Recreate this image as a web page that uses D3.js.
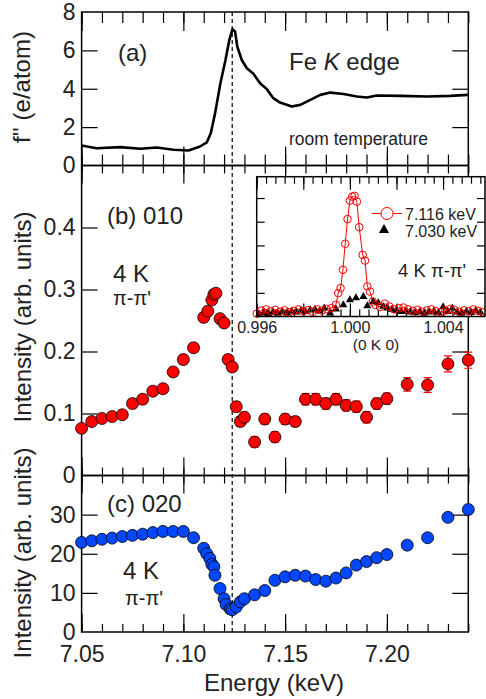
<!DOCTYPE html>
<html>
<head>
<meta charset="utf-8">
<script src="https://cdn.jsdelivr.net/npm/d3@7"></script>
<style>
  body { margin: 0; background: #fff; }
  text { font-family: "Liberation Sans", Arial, sans-serif; fill: #222; }
</style>
</head>
<body>
<svg id="chart" width="486" height="699"></svg>
<script>
// (a) f'' at room temperature
var energyA = [7.050, 7.0574, 7.0689, 7.0789, 7.0869, 7.0951, 7.1025, 7.1082, 7.1115, 7.1135,
    7.1156, 7.1182, 7.1207, 7.1226, 7.1241, 7.1254, 7.1265, 7.1287, 7.1312, 7.1344,
    7.1377, 7.1410, 7.1442, 7.1475, 7.1533, 7.1574, 7.1624, 7.1673, 7.1722, 7.1787,
    7.1852, 7.1902, 7.1951, 7.2066, 7.2197, 7.2311, 7.2398];
var fA = [1.04, 0.90, 0.96, 0.87, 0.94, 0.82, 0.78, 0.99, 1.20, 1.69,
    2.73, 4.29, 5.50, 6.55, 7.10, 6.98, 6.20, 5.50, 5.07, 4.78,
    4.29, 3.98, 3.51, 3.28, 3.07, 3.16, 3.42, 3.68, 3.80, 3.73,
    3.60, 3.54, 3.65, 3.63, 3.60, 3.63, 3.68];

// (b) 010 intensity
var energyB = [7.050, 7.055, 7.060, 7.065, 7.070, 7.075, 7.080, 7.085, 7.090, 7.095,
    7.100, 7.105, 7.110, 7.112, 7.114, 7.115, 7.116, 7.118, 7.120, 7.122,
    7.124, 7.126, 7.128, 7.130, 7.135, 7.140, 7.145, 7.150, 7.155, 7.160,
    7.165, 7.170, 7.175, 7.180, 7.185, 7.190, 7.195, 7.200, 7.210, 7.220,
    7.230, 7.240];
var intB = [0.076, 0.087, 0.092, 0.095, 0.098, 0.116, 0.123, 0.136, 0.140, 0.167,
    0.187, 0.206, 0.255, 0.265, 0.283, 0.292, 0.294, 0.253, 0.246, 0.187,
    0.175, 0.111, 0.087, 0.094, 0.054, 0.091, 0.062, 0.091, 0.087, 0.123,
    0.123, 0.116, 0.123, 0.113, 0.111, 0.094, 0.116, 0.124, 0.147, 0.146,
    0.180, 0.186];
var errB = [0.006, 0.006, 0.006, 0.006, 0.006, 0.007, 0.007, 0.007, 0.007, 0.007,
    0.007, 0.007, 0.007, 0.007, 0.007, 0.007, 0.007, 0.007, 0.007, 0.007,
    0.007, 0.008, 0.008, 0.008, 0.008, 0.008, 0.008, 0.008, 0.008, 0.009,
    0.009, 0.009, 0.009, 0.009, 0.009, 0.009, 0.009, 0.009, 0.011, 0.012,
    0.013, 0.013];

// (c) 020 intensity
var energyC = [7.050, 7.055, 7.060, 7.065, 7.070, 7.075, 7.080, 7.085, 7.090, 7.095,
    7.100, 7.105, 7.110, 7.1115, 7.113, 7.114, 7.115, 7.1155, 7.118, 7.120,
    7.121, 7.123, 7.124, 7.126, 7.128, 7.130, 7.135, 7.140, 7.145, 7.150,
    7.155, 7.160, 7.165, 7.170, 7.175, 7.180, 7.185, 7.190, 7.195, 7.200,
    7.210, 7.220, 7.230, 7.240];
var intC = [22.9, 23.3, 23.7, 24.0, 24.4, 24.7, 25.0, 25.4, 25.7, 25.7,
    25.7, 24.1, 21.4, 20.0, 18.8, 17.3, 16.7, 14.5, 11.1, 8.5,
    7.0, 5.9, 5.7, 6.4, 7.7, 8.5, 9.5, 10.6, 13.2, 14.1,
    14.5, 14.3, 13.4, 13.0, 13.8, 15.1, 17.1, 18.0, 19.0, 19.8,
    22.2, 24.1, 29.3, 31.3];

// inset: (0 K 0) scans
var qRed = [0.9960, 0.9962, 0.9964, 0.9966, 0.9968, 0.9970, 0.9972, 0.9974, 0.9976, 0.9978,
    0.9980, 0.9982, 0.9984, 0.9986, 0.9988, 0.9990, 0.9992, 0.9994, 0.9995, 0.9996,
    0.9997, 0.9998, 0.9999, 1.0000, 1.0001, 1.0002, 1.0003, 1.0004, 1.00055, 1.00065,
    1.00075, 1.00086, 1.00098, 1.0011, 1.0013, 1.0015, 1.0017, 1.0019, 1.0021, 1.0023,
    1.0025, 1.0027, 1.0029, 1.0031, 1.0033, 1.0035, 1.0037, 1.0039, 1.0041, 1.0043,
    1.0045, 1.0047, 1.0049, 1.0051, 1.0053, 1.0055, 1.0057];
var iRed = [0.12, 0.25, 0.30, 0.22, 0.28, 0.20, 0.26, 0.18, 0.24, 0.30,
    0.22, 0.27, 0.20, 0.30, 0.25, 0.32, 0.35, 0.49, 0.99, 1.20,
    1.97, 3.07, 4.11, 4.89, 5.06, 5.09, 4.85, 3.77, 2.60, 2.36,
    1.27, 1.05, 0.63, 0.49, 0.40, 0.54, 0.42, 0.30, 0.35, 0.38,
    0.30, 0.24, 0.28, 0.20, 0.26, 0.30, 0.22, 0.18, 0.25, 0.32,
    0.28, 0.20, 0.26, 0.22, 0.30, 0.24, 0.18];
var qBlack = [0.9961, 0.9963, 0.9965, 0.9967, 0.9969, 0.9971, 0.9973, 0.9975, 0.9977, 0.9979,
    0.9981, 0.9983, 0.9985, 0.9987, 0.9989, 0.99915, 0.9994, 0.99972, 1.0000, 1.00026,
    1.00058, 1.00075, 1.0010, 1.00122, 1.00143, 1.0016, 1.0018, 1.0020, 1.0022, 1.0024,
    1.0026, 1.0028, 1.0030, 1.0032, 1.0034, 1.0036, 1.0038, 1.0040, 1.0042, 1.0044,
    1.0046, 1.0048, 1.0050, 1.0052, 1.0054, 1.0056];
var iBlack = [0.10, 0.15, 0.12, 0.18, 0.14, 0.20, 0.16, 0.22, 0.18, 0.25,
    0.20, 0.28, 0.30, 0.22, 0.35, 0.14, 0.31, 0.49, 0.70, 0.78,
    0.84, 0.45, 0.63, 0.57, 0.42, 0.35, 0.30, 0.25, 0.20, 0.22,
    0.18, 0.15, 0.20, 0.14, 0.18, 0.22, 0.16, 0.40, 0.20, 0.35,
    0.18, 0.14, 0.22, 0.16, 0.25, 0.18];

var xMajor = [7.05, 7.10, 7.15, 7.20];
var edgeEnergy = 7.124;

var svg = d3.select('#chart');

var x = d3.scaleLinear().domain([7.05, 7.24]).range([81.6, 468.3]);
var yA = d3.scaleLinear().domain([0, 8]).range([165.5, 12]);
var yB = d3.scaleLinear().domain([0, 0.5]).range([475.5, 165.5]);
var yC = d3.scaleLinear().domain([0, 40]).range([632, 475.5]);

var xMinor = d3.range(0, 20).map(i => 7.05 + i * 0.01);

function ticks(axisFn, scale, vals, len, tx, ty) {
    var g = svg.append('g')
        .attr('transform', 'translate(' + tx + ',' + ty + ')')
        .call(axisFn(scale).tickValues(vals).tickSize(-len).tickFormat(''));
    g.select('.domain').remove();
    g.selectAll('line').attr('stroke', '#000').attr('stroke-width', 1.2);
}

function labels(axisFn, scale, vals, fmt, pad, tx, ty, size) {
    var g = svg.append('g')
        .attr('transform', 'translate(' + tx + ',' + ty + ')')
        .call(axisFn(scale).tickValues(vals).tickSize(0).tickPadding(pad).tickFormat(fmt));
    g.select('.domain').remove();
    g.selectAll('text').attr('font-size', size).attr('font-family', null).attr('fill', '#222');
}

function panel(y, minorLen, majorLen, yTicks) {
    var y0 = y.range()[0], y1 = y.range()[1];
    ticks(d3.axisTop, x, xMinor, minorLen, 0, y1);
    ticks(d3.axisTop, x, xMajor, majorLen, 0, y1);
    ticks(d3.axisBottom, x, xMinor, minorLen, 0, y0);
    ticks(d3.axisBottom, x, xMajor, majorLen, 0, y0);
    ticks(d3.axisLeft, y, yTicks, 16, x.range()[0], 0);
    ticks(d3.axisRight, y, yTicks, 16, x.range()[1], 0);
    svg.append('rect')
        .attr('x', x.range()[0]).attr('y', y1)
        .attr('width', x.range()[1] - x.range()[0]).attr('height', y0 - y1)
        .attr('fill', 'none').attr('stroke', '#000').attr('stroke-width', 1.5);
}

// dashed line at the edge
svg.append('line')
    .attr('x1', x(edgeEnergy)).attr('x2', x(edgeEnergy))
    .attr('y1', yA.range()[1]).attr('y2', yC.range()[0])
    .attr('stroke', '#000').attr('stroke-width', 1.2).attr('stroke-dasharray', '4,3');

panel(yA, 11, 19, [2, 4, 6]);
panel(yB, 8, 18, [0.1, 0.2, 0.3, 0.4]);
panel(yC, 8, 18, [10, 20, 30]);

labels(d3.axisLeft, yA, [0, 2, 4, 6, 8], d3.format('d'), 6, x.range()[0], 0, 23);
labels(d3.axisLeft, yB, [0, 0.1, 0.2, 0.3, 0.4], d => d === 0 ? '0' : d.toFixed(1), 6, x.range()[0], 0, 23);
labels(d3.axisLeft, yC, [0, 10, 20, 30], d3.format('d'), 6, x.range()[0], 0, 23);
labels(d3.axisBottom, x, xMajor, d3.format('.2f'), 14, 0, yC.range()[0], 23);

// axis titles
svg.append('text')
    .attr('transform', 'translate(30,87) rotate(-90)')
    .attr('text-anchor', 'middle').attr('font-size', 24)
    .text("f'' (e/atom)");
svg.append('text')
    .attr('transform', 'translate(30.5,317) rotate(-90)')
    .attr('text-anchor', 'middle').attr('font-size', 24)
    .text('Intensity (arb. units)');
svg.append('text')
    .attr('transform', 'translate(30.5,553) rotate(-90)')
    .attr('text-anchor', 'middle').attr('font-size', 24)
    .text('Intensity (arb. units)');
svg.append('text')
    .attr('x', 274).attr('y', 691)
    .attr('text-anchor', 'middle').attr('font-size', 24)
    .text('Energy (keV)');

// (a) curve
var dataA = energyA.map((e, i) => ({ e: e, v: fA[i] }));
svg.append('path')
    .datum(dataA)
    .attr('fill', 'none').attr('stroke', '#000').attr('stroke-width', 2.6)
    .attr('stroke-linejoin', 'round')
    .attr('d', d3.line().x(d => x(d.e)).y(d => yA(d.v)));

svg.append('text').attr('x', 118).attr('y', 61).attr('font-size', 24).text('(a)');
var fe = svg.append('text').attr('x', 289).attr('y', 70).attr('font-size', 24);
fe.append('tspan').text('Fe ');
fe.append('tspan').attr('font-style', 'italic').text('K');
fe.append('tspan').text(' edge');
svg.append('text').attr('x', 289).attr('y', 145).attr('font-size', 17.5).text('room temperature');

// (b) points with error bars
var dataB = energyB.map((e, i) => ({ e: e, v: intB[i], err: errB[i] }));
var gB = svg.append('g');
gB.selectAll('.eb').data(dataB).enter().append('path')
    .attr('class', 'eb')
    .attr('fill', 'none').attr('stroke', '#ff0000').attr('stroke-width', 1.2)
    .attr('d', d => {
        var cx = x(d.e), lo = yB(d.v - d.err), hi = yB(d.v + d.err);
        return 'M' + cx + ',' + lo + 'V' + hi +
            'M' + (cx - 4) + ',' + lo + 'H' + (cx + 4) +
            'M' + (cx - 4) + ',' + hi + 'H' + (cx + 4);
    });
gB.selectAll('circle').data(dataB).enter().append('circle')
    .attr('cx', d => x(d.e)).attr('cy', d => yB(d.v)).attr('r', 6)
    .attr('fill', '#ff0000').attr('stroke', '#000').attr('stroke-width', 0.8);

svg.append('text').attr('x', 107).attr('y', 224).attr('font-size', 24).text('(b) 010');
svg.append('text').attr('x', 113).attr('y', 282).attr('font-size', 24).text('4 K');
svg.append('text').attr('x', 113).attr('y', 305).attr('font-size', 20).text("\u03c0-\u03c0'");

// (c) points
var dataC = energyC.map((e, i) => ({ e: e, v: intC[i] }));
svg.append('g').selectAll('circle').data(dataC).enter().append('circle')
    .attr('cx', d => x(d.e)).attr('cy', d => yC(d.v)).attr('r', 6)
    .attr('fill', '#0047ff').attr('stroke', '#000').attr('stroke-width', 0.8);

svg.append('text').attr('x', 107).attr('y', 512).attr('font-size', 24).text('(c) 020');
svg.append('text').attr('x', 123).attr('y', 579).attr('font-size', 24).text('4 K');
svg.append('text').attr('x', 125).attr('y', 605).attr('font-size', 20).text("\u03c0-\u03c0'");

// inset
var qx = d3.scaleLinear().domain([0.996, 1.0058]).range([256.7, 485]);
var qy = d3.scaleLinear().domain([0, 5.9]).range([316.5, 176.7]);
var qMinor = d3.range(0, 25).map(i => 0.996 + i * 0.0004);
var qMajor = [0.996, 0.998, 1.000, 1.002, 1.004];

svg.append('rect')
    .attr('x', qx.range()[0]).attr('y', qy.range()[1])
    .attr('width', qx.range()[1] - qx.range()[0]).attr('height', qy.range()[0] - qy.range()[1])
    .attr('fill', '#fff');

ticks(d3.axisTop, qx, qMinor, 7, 0, qy.range()[1]);
ticks(d3.axisTop, qx, qMajor, 13, 0, qy.range()[1]);
ticks(d3.axisBottom, qx, qMinor, 7, 0, qy.range()[0]);
ticks(d3.axisBottom, qx, qMajor, 13, 0, qy.range()[0]);
ticks(d3.axisLeft, qy, [1, 2, 3, 4, 5], 8, qx.range()[0], 0);
ticks(d3.axisRight, qy, [1, 2, 3, 4, 5], 8, qx.range()[1], 0);

var dataR = qRed.map((q, i) => ({ q: q, v: iRed[i] }));
var dataK = qBlack.map((q, i) => ({ q: q, v: iBlack[i] }));
var gI = svg.append('g');
gI.append('path').datum(dataR)
    .attr('fill', 'none').attr('stroke', '#ff0000').attr('stroke-width', 1)
    .attr('d', d3.line().x(d => qx(d.q)).y(d => qy(d.v)));
gI.selectAll('.tri').data(dataK).enter().append('path')
    .attr('class', 'tri')
    .attr('transform', d => 'translate(' + qx(d.q) + ',' + qy(d.v) + ')')
    .attr('d', d3.symbol(d3.symbolTriangle, 28))
    .attr('fill', '#000');
gI.selectAll('circle').data(dataR).enter().append('circle')
    .attr('cx', d => qx(d.q)).attr('cy', d => qy(d.v)).attr('r', 3.8)
    .attr('fill', 'none').attr('stroke', '#ff0000').attr('stroke-width', 1);

svg.append('rect')
    .attr('x', qx.range()[0]).attr('y', qy.range()[1])
    .attr('width', qx.range()[1] - qx.range()[0]).attr('height', qy.range()[0] - qy.range()[1])
    .attr('fill', 'none').attr('stroke', '#000').attr('stroke-width', 1.5);

labels(d3.axisBottom, qx, [0.996, 1.000, 1.004], d3.format('.3f'), 5, 0, qy.range()[0], 16);
svg.append('text').attr('x', 376).attr('y', 350).attr('text-anchor', 'middle')
    .attr('font-size', 15.5).text('(0 K 0)');

// inset legend
svg.append('line').attr('x1', 372).attr('x2', 402).attr('y1', 213.5).attr('y2', 213.5)
    .attr('stroke', '#ff0000').attr('stroke-width', 1);
svg.append('circle').attr('cx', 387).attr('cy', 213.5).attr('r', 6)
    .attr('fill', '#fff').attr('stroke', '#ff0000').attr('stroke-width', 1);
svg.append('path').attr('transform', 'translate(384,230)')
    .attr('d', d3.symbol(d3.symbolTriangle, 45)).attr('fill', '#000');
svg.append('text').attr('x', 405).attr('y', 220).attr('font-size', 16).text('7.116 keV');
svg.append('text').attr('x', 405).attr('y', 237).attr('font-size', 16).text('7.030 keV');
svg.append('text').attr('x', 398).attr('y', 277).attr('font-size', 18.5).text("4 K \u03c0-\u03c0'");
</script>
</body>
</html>
